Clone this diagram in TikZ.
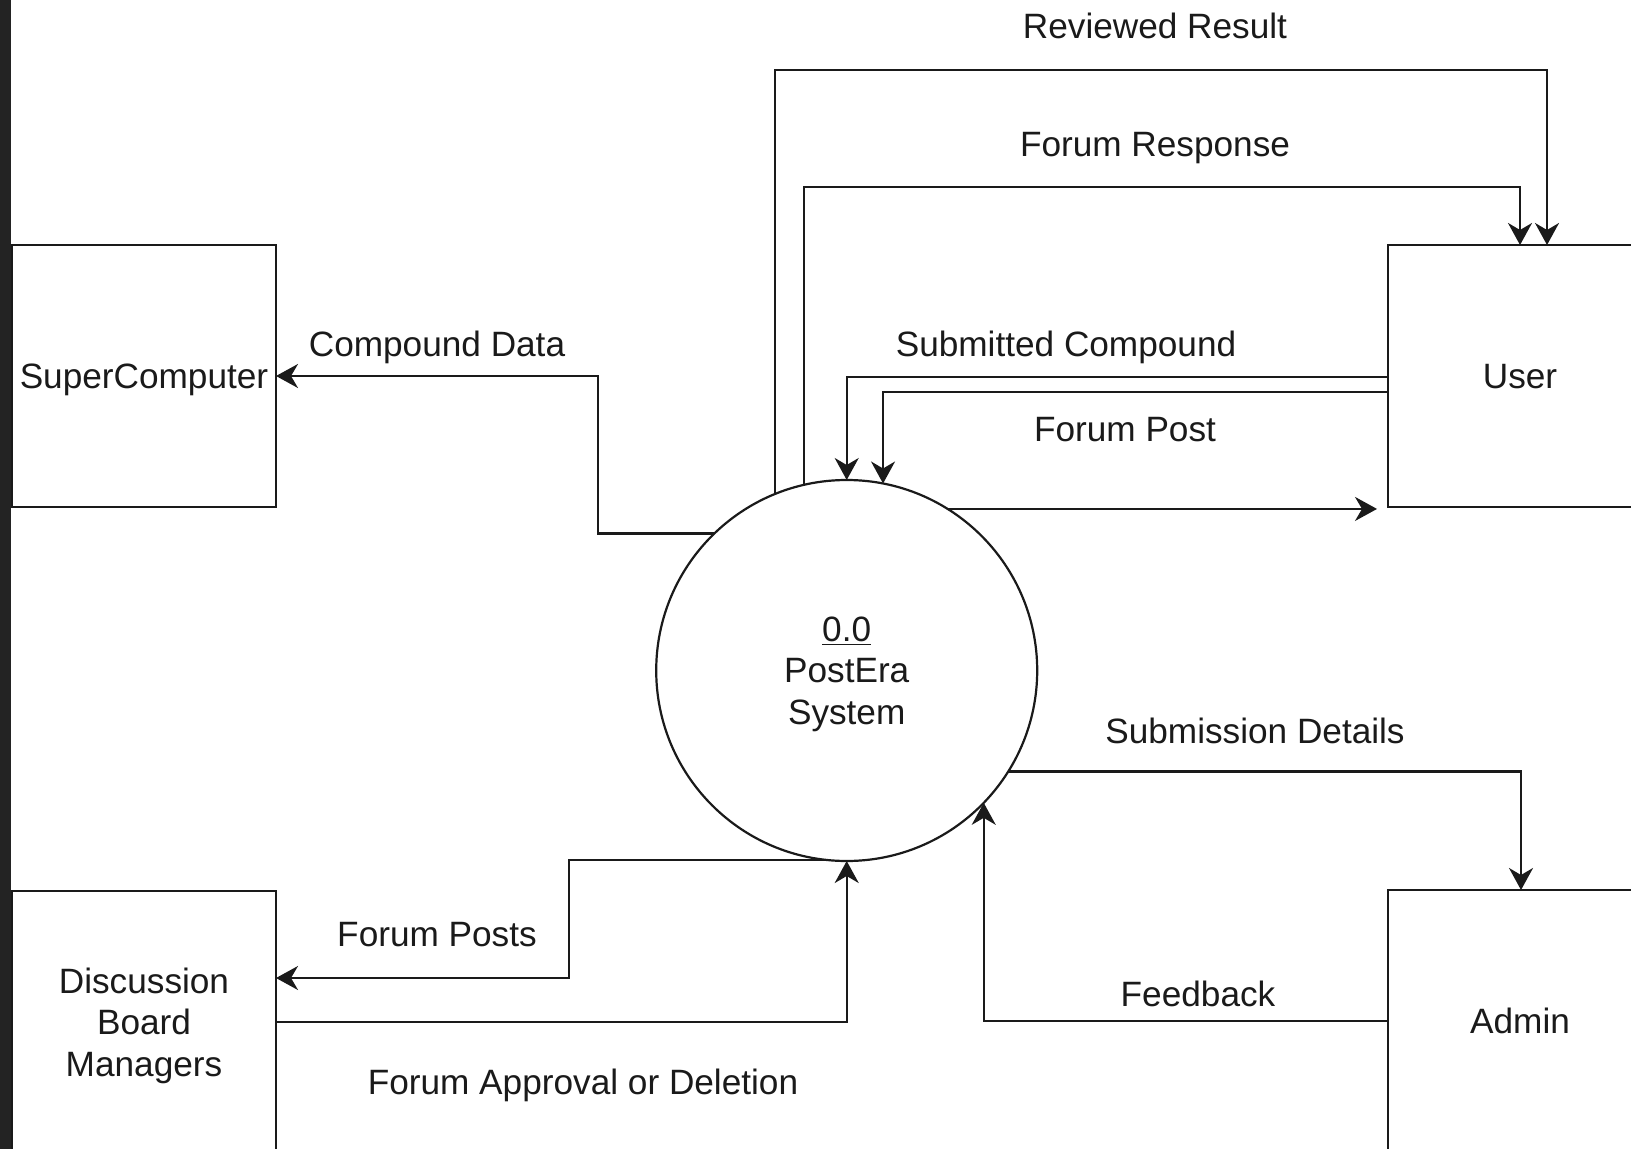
\documentclass[tikz,border=0pt]{standalone}
\usepackage{fontspec}
\setmainfont{Liberation Sans}
\usetikzlibrary{arrows.meta,calc}
\definecolor{ink}{HTML}{1A1A1A}
\definecolor{barc}{HTML}{232323}
\newcommand{\lblfont}{\fontsize{17.6}{20.8}\selectfont}
\begin{document}
\begin{tikzpicture}[x=0.5pt,y=-0.5pt,
  entity/.style={draw=ink, line width=1.1pt, minimum width=132pt, minimum height=131pt,
    inner sep=0pt, outer sep=0pt, align=center, font=\lblfont, text=ink, text depth=0pt},
  proc/.style={circle, draw=ink, line width=1.1pt, minimum size=190.5pt, inner sep=0pt,
    outer sep=0pt, align=center, font=\lblfont, text=ink, text depth=0pt},
  flow/.style={draw=ink, line width=1.1pt,
    -{Stealth[length=11pt, width=12pt, inset=3.5pt]}},
  lbl/.style={font=\lblfont, text=ink, inner sep=0pt}]
\useasboundingbox (0,0) rectangle (1631,1149);
\clip (0,0) rectangle (1631,1149);
\fill[white] (0,0) rectangle (1631,1149);
\fill[barc] (0,0) rectangle (11,1149);

% external entities and the central process
\node[entity] (sc) at (144,376) {SuperComputer};
\node[entity] (user) at (1520,376) {User};
\node[entity] (disc) at (144,1022) {Discussion\\Board\\Managers};
\node[entity] (admin) at (1520,1021) {Admin};
\node[proc] (sys) at (846.7,670.5) {\underline{0.0}\\PostEra\\System};

% turning points of the routed flows
\coordinate (cdx) at (598,0);
\coordinate (rry) at (0,70);
\coordinate (fry) at (0,187);
\coordinate (rrx) at (1547,0);
\coordinate (fpx) at (569,0);
\coordinate (fpy) at (0,978);
\coordinate (sdx) at (1521,0);
\coordinate (sub) at (0,377);
\coordinate (fpo) at (0,392);

% flows
\draw[flow] (sys.134.7) -- (sys.134.7 -| cdx) |- (sc.east);
\draw[flow] (sys.112.4) -- (sys.112.4 |- rry) -- (rry -| rrx) -- (rrx |- user.north);
\draw[flow] (sys.103.3) -- (sys.103.3 |- fry) -- (fry -| user.north) -- (user.north);
\draw[flow] (sub -| user.west) -- (sub -| sys.north) -- (sys.north);
\draw[flow] (fpo -| user.west) -- (fpo -| sys.79.9) -- (sys.79.9);
\draw[flow, shorten >=5.5pt] (sys.58) -- (sys.58 -| user.west);
\draw[flow] (sys.-32.2) -- (sys.-32.2 -| sdx) -- (sdx |- admin.north);
\draw[flow] (admin.west) -| (sys.-44.75);
\draw[flow] (sys.265) -- (sys.265 -| fpx) -- (fpx |- fpy) -- (fpy -| disc.east);
\draw[flow] (disc.east) -| (sys.south);

% flow labels
\node[lbl] (lrr) at (1155,26) {Reviewed Result};
\node[lbl] (lfr) at (1155,148) {Forum Response};
\node[lbl] (lsc) at (1066,347) {Submitted Compound};
\node[lbl] (lfp) at (1125,430) {Forum Post};
\node[lbl] (lcd) at (437,347) {Compound Data};
\node[lbl] (lsd) at (1255,731) {Submission Details};
\node[lbl] (lfps) at (437,935) {Forum Posts};
\node[lbl] (lfb) at (1198,994) {Feedback};
\node[lbl] (lfa) at (583,1085) {Forum Approval or Deletion};
\end{tikzpicture}
\end{document}
